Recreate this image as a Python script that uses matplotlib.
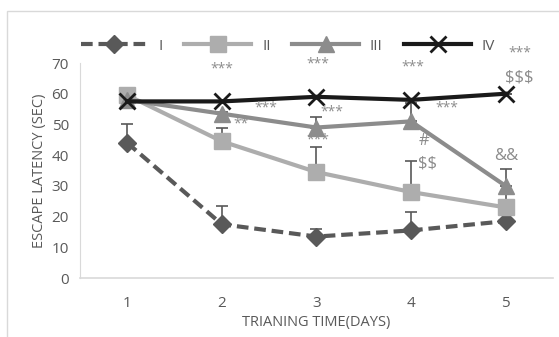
import matplotlib.pyplot as plt
import numpy as np

plt.rcParams['font.family'] = ['Open Sans', 'DejaVu Sans']
plt.rcParams['text.parse_math'] = False

days = [1, 2, 3, 4, 5]
labels = ["I", "II", "III", "IV"]

lat_i = [44, 17.5, 13.5, 15.5, 18.5]
lat_ii = [59.5, 44.5, 34.5, 28, 23]
lat_iii = [58, 53.5, 49, 51, 30]
lat_iv = [57.5, 57.5, 59, 58, 60]

err_i = [6, 6, 2.5, 6, 0.5]
err_ii = [0.5, 4.5, 8, 10, 5]
err_iii = [0.5, 0.5, 3.5, 6, 5.5]
err_iv = [0, 0, 0, 0, 0]

# significance marks (text, day, latency)
marks = [
    ("***", 2.0, 67.9), ("***", 3.01, 69.8), ("***", 4.02, 68.8),
    ("***", 5.15, 73.4), ("$$$", 5.15, 65.3),
    ("***", 2.47, 55.5), ("**", 2.2, 50.0),
    ("***", 3.16, 54.2), ("***", 3.01, 45.1),
    ("***", 4.38, 55.5), ("#", 4.14, 44.5),
    ("$$", 4.17, 37.3), ("&&", 5.01, 39.6),
]

fig = plt.figure(figsize=(5.59, 3.37), dpi=100)
ax = fig.add_axes([0.143, 0.175, 0.846, 0.638])

series = [
    (lat_i, err_i, "#595959", "D", 9, (0, (2.8, 1.4))),
    (lat_ii, err_ii, "#ADADAD", "s", 11, "-"),
    (lat_iii, err_iii, "#8C8C8C", "^", 11, "-"),
    (lat_iv, err_iv, "#1A1A1A", "x", 11, "-"),
]

handles = []
for (vals, err, col, mk, ms, ls), lab in zip(series, labels):
    ax.errorbar(days, vals, yerr=[np.zeros(5), err], fmt="none", ecolor="#595959",
                elinewidth=1.2, capsize=4, capthick=1.2, zorder=2)
    h, = ax.plot(days, vals, color=col, lw=3, ls=ls, marker=mk, ms=ms,
                 mew=2 if mk == "x" else 1, mec=col, mfc=col, label=lab, zorder=3)
    handles.append(h)

for txt, x, y in marks:
    fs = 12 if txt[0] in "$&#" else 10
    ax.text(x, y, txt, color="#8C8C8C", fontsize=fs, ha="center", va="center",
            clip_on=False, zorder=4)

ax.set_xlim(0.5, 5.5)
ax.set_ylim(0, 70)
ax.set_xticks(days)
ax.set_yticks(range(0, 71, 10))
for s in ["top", "right"]:
    ax.spines[s].set_visible(False)
ax.spines["bottom"].set_color("#D9D9D9")
ax.spines["left"].set_color("#D9D9D9")
ax.spines["bottom"].set_linewidth(1.2)
ax.tick_params(length=0, colors="#595959", labelsize=11, pad=8)
ax.tick_params(axis="x", pad=13)

ax.set_xlabel("TRIANING TIME(DAYS)", color="#595959", fontsize=10.5, labelpad=3)
ax.set_ylabel("ESCAPE LATENCY (SEC)", color="#595959", fontsize=10.5, labelpad=3)

fig.legend(handles=handles, loc="center", bbox_to_anchor=(0.515, 0.863), ncol=4,
           frameon=False, handlelength=4.4, columnspacing=1.4, handletextpad=0.7,
           fontsize=11, labelcolor="#595959")

fig.patches.append(plt.Rectangle((7 / 559, -0.1), 1.2, 1 - 11 / 337 + 0.1,
                                 transform=fig.transFigure, fill=False,
                                 ec="#D9D9D9", lw=1))

fig.savefig("out.png", dpi=100)
